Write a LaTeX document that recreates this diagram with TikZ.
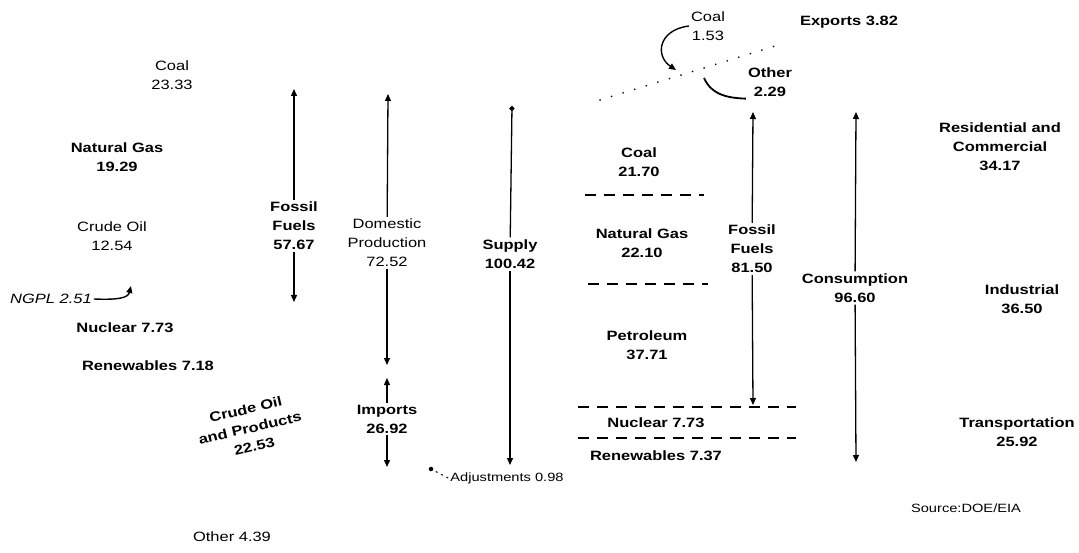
\documentclass[tikz,border=0pt]{standalone}
\usepackage{fontspec}
\setmainfont{Liberation Sans}[FakeStretch=1.22]
\usetikzlibrary{arrows.meta}

\tikzset{
  lbl/.style={font=\bfseries\fontsize{13.5}{19}\selectfont,align=center,inner sep=2pt},
  thinlbl/.style={font=\fontsize{13.5}{19}\selectfont,align=center,inner sep=2pt},
  flow/.style={line width=1.3pt,-{Triangle[width=6pt,length=7pt]}},
  sepline/.style={line width=2.2pt,dash pattern=on 11pt off 8pt},
}

\begin{document}
\begin{tikzpicture}[x=1pt,y=-1pt]
  \useasboundingbox (0,0) rectangle (1079,553);

  % production by source
  \node[thinlbl] (pcoal) at (172,75) {Coal\\23.33};
  \node[lbl] (pgas) at (117,157) {Natural Gas\\19.29};
  \node[thinlbl] (pcrude) at (112,236) {Crude Oil\\12.54};
  \node[thinlbl,font=\itshape\fontsize{13.5}{19}\selectfont,anchor=west] (pngpl) at (8,299) {NGPL 2.51};
  \coordinate (ngplTip) at (131,286);
  \draw[flow,line width=1.4pt] (pngpl.east) .. controls (118,300) and (128,298) .. (ngplTip);
  \node[lbl] (pnuc) at (125,328) {Nuclear 7.73};
  \node[lbl] (pren) at (148,366) {Renewables 7.18};
  \node[lbl,rotate=13] (pimp) at (250,428) {Crude Oil\\and Products\\22.53};
  \node[thinlbl] (pother) at (232,537) {Other 4.39};

  % left arrows
  \node[lbl] (ffl) at (294,226) {Fossil\\Fuels\\57.67};
  \coordinate (fflTop) at (294,89);
  \coordinate (fflBot) at (294,302);
  \draw[flow] (ffl) -- (fflTop);
  \draw[flow] (ffl) -- (fflBot);

  \node[thinlbl] (dom) at (387,243) {Domestic\\Production\\72.52};
  \coordinate (domTop) at (388,94);
  \coordinate (domBot) at (387,365);
  \draw[flow] (dom) -- (domTop);
  \draw[flow] (dom) -- (domBot);

  \node[lbl] (imp) at (387,419) {Imports\\26.92};
  \coordinate (impTop) at (387,378);
  \coordinate (impBot) at (387,467);
  \draw[flow] (imp) -- (impTop);
  \draw[flow] (imp) -- (impBot);

  \node[lbl] (sup) at (510,254) {Supply\\100.42};
  \coordinate (supTop) at (512,106);
  \coordinate (supBot) at (510,465);
  \draw[line width=1.3pt,-{Circle[length=5pt]}] (sup) -- (supTop);
  \draw[flow] (sup) -- (supBot);

  \node[circle,fill,inner sep=1.6pt] (adjDot) at (431,469) {};
  \node[thinlbl,font=\fontsize{12}{19}\selectfont] (adj) at (507,478) {Adjustments 0.98};
  \draw[line width=1pt,dash pattern=on 2pt off 4pt] (adj.west) -- (adjDot);

  % exports
  \node[lbl] (xall) at (849,22) {Exports 3.82};
  \node[thinlbl] (xcoal) at (708,26) {Coal\\1.53};
  \node[lbl] (xoth) at (770,82) {Other\\2.29};
  \coordinate (dotA) at (600,100);
  \coordinate (dotB) at (785,43);
  \draw[line width=1.8pt,line cap=round,dash pattern=on 0.1pt off 12pt] (dotA) -- (dotB);
  \coordinate (xcoalTip) at (676,70);
  \draw[flow,line width=1.4pt] (xcoal.west) .. controls (658,30) and (655,56) .. (xcoalTip);
  \coordinate (xothEnd) at (704,78);
  \draw[line width=1.8pt] (xoth.south west) .. controls (730,98) and (712,96) .. (xothEnd);

  % consumption by source
  \node[lbl] (ccoal) at (639,162) {Coal\\21.70};
  \node[lbl] (cgas) at (642,243) {Natural Gas\\22.10};
  \node[lbl] (cpet) at (647,345) {Petroleum\\37.71};
  \node[lbl] (cnuc) at (656,423) {Nuclear 7.73};
  \node[lbl] (cren) at (656,456) {Renewables 7.37};
  \coordinate (s1a) at (585,195); \coordinate (s1b) at (704,195);
  \coordinate (s2a) at (588,284); \coordinate (s2b) at (708,284);
  \coordinate (s3a) at (578,407); \coordinate (s3b) at (796,407);
  \coordinate (s4a) at (578,438); \coordinate (s4b) at (796,438);
  \draw[sepline] (s1a) -- (s1b);
  \draw[sepline] (s2a) -- (s2b);
  \draw[sepline] (s3a) -- (s3b);
  \draw[sepline] (s4a) -- (s4b);

  % right arrows
  \node[lbl] (ffr) at (752,249) {Fossil\\Fuels\\81.50};
  \coordinate (ffrTop) at (753,112);
  \coordinate (ffrBot) at (753,405);
  \draw[flow] (ffr) -- (ffrTop);
  \draw[flow] (ffr) -- (ffrBot);

  \node[lbl] (cons) at (855,288) {Consumption\\96.60};
  \coordinate (consTop) at (856,112);
  \coordinate (consBot) at (856,462);
  \draw[flow] (cons) -- (consTop);
  \draw[flow] (cons) -- (consBot);

  % end-use sectors
  \node[lbl] (res) at (1000,147) {Residential and\\Commercial\\34.17};
  \node[lbl] (ind) at (1022,299) {Industrial\\36.50};
  \node[lbl] (trn) at (1017,432) {Transportation\\25.92};
  \node[thinlbl,font=\fontsize{12}{19}\selectfont] (src) at (966,508) {Source:DOE/EIA};
\end{tikzpicture}
\end{document}
